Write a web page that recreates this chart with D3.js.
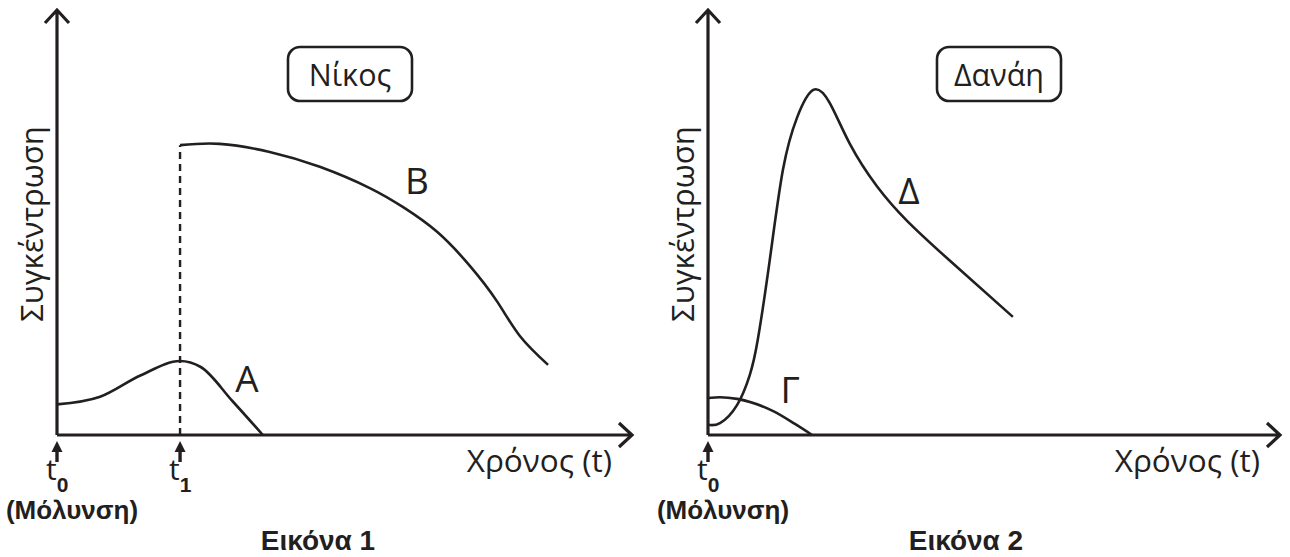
<!DOCTYPE html>
<html>
<head>
<meta charset="utf-8">
<script src="https://cdn.jsdelivr.net/npm/d3@7"></script>
<style>
  body { margin: 0; background: #fff; }
  .lbl { font-family: "Open Sans", sans-serif; fill: #231f20; }
  .bold { font-family: "Liberation Sans", Arial, sans-serif; font-weight: bold; fill: #231f20; }
</style>
</head>
<body>
<div id="chart"></div>
<script>
// Εικόνα 1 (Νίκος): time in arbitrary units, concentration in arbitrary units
var timeA = [0, 0.75, 1.45, 2.14, 2.5, 3.05, 3.58];
var concA = [0.72, 0.9, 1.4, 1.74, 1.6, 0.8, 0];
var t1 = 2.14;
var timeB = [t1, 2.83, 3.7, 4.57, 5.44, 6.02, 6.61, 7.18, 7.65, 8.05, 8.54];
var concB = [6.82, 6.85, 6.66, 6.31, 5.81, 5.36, 4.78, 3.98, 3.15, 2.33, 1.65];

// Εικόνα 2 (Δανάη)
var timeG = [0, 0.21, 0.51, 1.14, 1.52, 1.82];
var concG = [0.87, 0.89, 0.85, 0.56, 0.26, 0];
var timeD = [0, 0.21, 0.51, 0.73, 0.87, 1.08, 1.31, 1.56, 1.84, 2.13, 2.48, 2.95, 3.48, 4.23, 5.33];
var concD = [0.24, 0.28, 0.71, 1.41, 2.24, 4.12, 6.24, 7.48, 8.12, 7.81, 6.85, 5.86, 5.04, 4.1, 2.78];

var marks1 = [{t: 0, sub: "0"}, {t: t1, sub: "1"}];
var marks2 = [{t: 0, sub: "0"}];

var svgWidth = 1290;
var svgHeight = 557;

var svg = d3.select("#chart")
  .append("svg")
  .attr("width", svgWidth)
  .attr("height", svgHeight);

var ink = "#231f20";

function zip(xs, ys) {
  return xs.map(function(x, i) { return [x, ys[i]]; });
}

function drawPanel(p) {
  var xScale = d3.scaleLinear().domain([0, 10]).range([p.x0, p.x1]);
  var yScale = d3.scaleLinear().domain([0, 10]).range([435, 10]);
  var g = svg.append("g");

  var ox = xScale(0), oy = yScale(0);
  var xEnd = xScale.range()[1], yTop = yScale.range()[1];

  // axes with open arrow heads
  g.append("path")
    .attr("d", `M${ox},${oy}H${xEnd}M${xEnd - 13},${oy - 12}L${xEnd},${oy}L${xEnd - 13},${oy + 12}`)
    .attr("fill", "none").attr("stroke", ink).attr("stroke-width", 3.2);
  g.append("path")
    .attr("d", `M${ox},${oy}V${yTop}M${ox - 12},${yTop + 13}L${ox},${yTop}L${ox + 12},${yTop + 13}`)
    .attr("fill", "none").attr("stroke", ink).attr("stroke-width", 3.2);

  p.curves.forEach(function(c) {
    var line = d3.line()
      .x(function(d) { return xScale(d[0]); })
      .y(function(d) { return yScale(d[1]); })
      .curve(c.curve);
    g.append("path")
      .attr("d", line(zip(c.t, c.c)))
      .attr("fill", "none").attr("stroke", ink).attr("stroke-width", 2.6);
    g.append("text").attr("class", "lbl")
      .attr("x", c.lx).attr("y", c.ly)
      .attr("text-anchor", "middle")
      .style("font-size", "37px")
      .text(c.name);
  });

  if (p.dashed !== undefined) {
    g.append("line")
      .attr("x1", xScale(p.dashed)).attr("x2", xScale(p.dashed))
      .attr("y1", oy).attr("y2", yScale(p.dashTop))
      .attr("stroke", ink).attr("stroke-width", 2.4)
      .attr("stroke-dasharray", "7,5");
  }

  // time marks under the axis
  p.marks.forEach(function(m) {
    var mx = xScale(m.t);
    g.append("path")
      .attr("d", `M${mx},${oy + 6}L${mx - 5.5},${oy + 17}L${mx + 5.5},${oy + 17}Z`)
      .attr("fill", ink);
    g.append("line")
      .attr("x1", mx).attr("x2", mx)
      .attr("y1", oy + 14).attr("y2", oy + 27)
      .attr("stroke", ink).attr("stroke-width", 3.4);
    var tt = g.append("text").attr("class", "lbl")
      .attr("x", mx - 11).attr("y", oy + 45)
      .style("font-size", "30px");
    tt.append("tspan").text("t");
    tt.append("tspan")
      .attr("dy", 12)
      .style("font-family", "'Liberation Sans', Arial, sans-serif")
      .style("font-weight", "bold")
      .style("font-size", "21px")
      .text(m.sub);
  });

  g.append("text").attr("class", "bold")
    .attr("x", ox + 15).attr("y", 519)
    .attr("text-anchor", "middle")
    .style("font-size", "26px")
    .text("(Μόλυνση)");

  g.append("text").attr("class", "lbl")
    .attr("x", xEnd - 20).attr("y", 472)
    .attr("text-anchor", "end")
    .style("font-size", "31.5px")
    .text("Χρόνος (t)");

  g.append("text").attr("class", "lbl")
    .attr("transform", `translate(${ox - 14}, 224) rotate(-90)`)
    .attr("text-anchor", "middle")
    .style("font-size", "31px")
    .text("Συγκέντρωση");

  // name box
  g.append("rect")
    .attr("x", p.boxX).attr("y", 47)
    .attr("width", 124).attr("height", 54)
    .attr("rx", 12)
    .attr("fill", "none").attr("stroke", ink).attr("stroke-width", 2.6);
  g.append("text").attr("class", "lbl")
    .attr("x", p.boxX + 62).attr("y", 86)
    .attr("text-anchor", "middle")
    .style("font-size", "30.5px")
    .text(p.person);

  g.append("text").attr("class", "bold")
    .attr("x", p.capX).attr("y", 550)
    .attr("text-anchor", "middle")
    .style("font-size", "28px")
    .text(p.caption);
}

drawPanel({
  x0: 57, x1: 632,
  curves: [
    {name: "A", t: timeA, c: concA, lx: 247, ly: 392, curve: d3.curveMonotoneX},
    {name: "B", t: timeB, c: concB, lx: 417, ly: 194, curve: d3.curveNatural}
  ],
  dashed: t1, dashTop: concB[0],
  marks: marks1,
  boxX: 288, person: "Νίκος",
  capX: 318, caption: "Εικόνα 1"
});

drawPanel({
  x0: 708, x1: 1280,
  curves: [
    {name: "Γ", t: timeG, c: concG, lx: 790, ly: 403, curve: d3.curveMonotoneX},
    {name: "Δ", t: timeD, c: concD, lx: 909, ly: 204, curve: d3.curveNatural}
  ],
  marks: marks2,
  boxX: 937, person: "Δανάη",
  capX: 966, caption: "Εικόνα 2"
});
</script>
</body>
</html>
